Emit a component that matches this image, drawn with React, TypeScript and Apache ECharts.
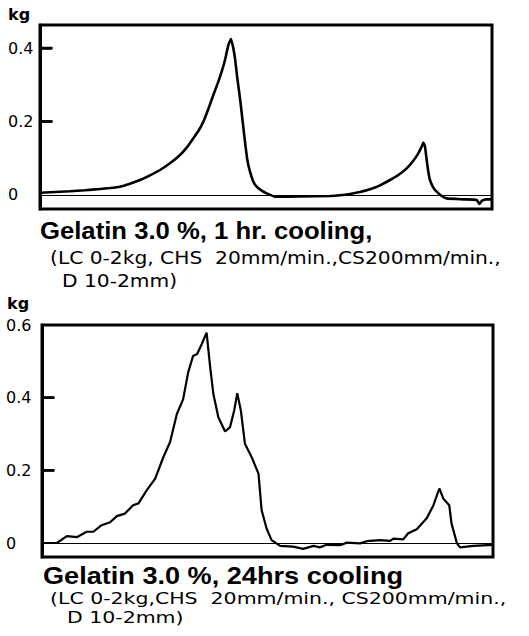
import React, { useEffect, useRef } from "react";
import * as echarts from "echarts";

// Panel 1: Gelatin 3.0%, 1 hr cooling (x: relative chart position 0-100, y: kg)
const xTop = [0, 6.6, 9.96, 13.27, 15.49, 17.7, 19.91, 22.12, 24.34, 26.55, 28.76, 30.97, 32.45, 33.92, 35.03, 36.14, 37.24, 38.35, 39.45, 40.19, 40.93, 41.67, 42.26, 42.77, 43.14, 43.66, 44.25, 44.84, 45.35, 45.87, 46.46, 47.2, 47.94, 49.04, 50.15, 51.99, 57.5, 64.16, 66.37, 68.58, 70.8, 73.01, 75.22, 77.43, 79.28, 81.12, 82.6, 83.7, 84.44, 84.81, 85.18, 85.55, 85.91, 86.28, 87.02, 87.76, 88.86, 89.97, 93.66, 96.61, 97.2, 97.79, 98.82, 100];
const yTop = [0.006, 0.01, 0.013, 0.0163, 0.019, 0.0227, 0.0308, 0.0408, 0.0535, 0.068, 0.0862, 0.1088, 0.1288, 0.1542, 0.1741, 0.1995, 0.234, 0.272, 0.3084, 0.3356, 0.3673, 0.408, 0.4245, 0.399, 0.372, 0.3175, 0.263, 0.1995, 0.145, 0.0952, 0.0635, 0.0363, 0.0227, 0.0118, 0.0045, -0.0045, -0.004, -0.0027, -0.0009, 0.0027, 0.0082, 0.0154, 0.0263, 0.0408, 0.0544, 0.0726, 0.0934, 0.1134, 0.1315, 0.1424, 0.1315, 0.0952, 0.0635, 0.0408, 0.02, 0.0091, -0.0027, -0.0091, -0.0118, -0.0136, -0.0245, -0.0154, -0.0118, -0.0118];

// Panel 2: Gelatin 3.0%, 24 hrs cooling
const xBot = [0, 3.3, 5.5, 7.7, 9.9, 11.4, 13.2, 15.1, 16.6, 18.4, 20.2, 21.4, 23.2, 25.1, 26.9, 28.4, 29.9, 31.3, 32.4, 33.5, 34.4, 35.4, 36.5, 37.3, 38.0, 39.1, 40.6, 41.7, 42.6, 43.3, 44.1, 45.0, 46.5, 48.0, 48.7, 49.8, 50.9, 52.8, 55.7, 57.9, 60.2, 61.6, 63.1, 66.1, 67.6, 70.5, 72.0, 75.0, 77.2, 77.9, 80.1, 81.2, 83.1, 85.3, 86.8, 88.1, 89.0, 90.3, 90.8, 92.0, 92.7, 95.6, 100];
const yBot = [0, 0, 0.019, 0.016, 0.031, 0.031, 0.049, 0.057, 0.074, 0.081, 0.104, 0.109, 0.145, 0.177, 0.236, 0.278, 0.355, 0.396, 0.469, 0.515, 0.52, 0.547, 0.579, 0.483, 0.41, 0.346, 0.307, 0.319, 0.364, 0.412, 0.364, 0.273, 0.236, 0.191, 0.09, 0.04, 0.008, -0.008, -0.01, -0.016, -0.008, -0.012, -0.005, -0.006, 0.001, -0.001, 0.005, 0.008, 0.006, 0.012, 0.01, 0.027, 0.038, 0.068, 0.104, 0.15, 0.122, 0.104, 0.054, -0.001, -0.012, -0.008, -0.005];

const labelsTop = [0, 0.2, 0.4];
const labelsBot = [0, 0.2, 0.4, 0.6];
const tickMarksTop = [0.2, 0.4];
const tickMarksBot = [0.2, 0.4];

const unit = "kg";
const title1 = "Gelatin 3.0 %, 1 hr. cooling,";
const sub1a = "(LC 0-2kg, CHS  20mm/min.,CS200mm/min.,";
const sub1b = "D 10-2mm)";
const title2 = "Gelatin 3.0 %, 24hrs cooling";
const sub2a = "(LC 0-2kg,CHS  20mm/min., CS200mm/min.,";
const sub2b = "D 10-2mm)";

const FONT = "DejaVu Sans";
const TFONT = "Liberation Sans";

export default function App() {
  const ref = useRef<HTMLDivElement>(null);
  useEffect(() => {
    if (!ref.current) return;
    const chart = echarts.init(ref.current, null, { renderer: "svg" });
    const pairs = (xs: number[], ys: number[]) => xs.map((x, i) => [x, ys[i]]);
    const yAxisBase = (min: number, max: number, labels: number[], ticks: number[], margin: number) => ({
      type: "value",
      min,
      max,
      splitLine: { show: false },
      axisLine: { show: true, onZero: false, lineStyle: { color: "#000", width: 3 } },
      axisTick: {
        show: true,
        inside: true,
        length: 12,
        customValues: ticks,
        lineStyle: { color: "#000", width: 2.5 },
      },
      axisLabel: {
        show: true,
        showMinLabel: true,
        showMaxLabel: true,
        customValues: labels,
        align: "left",
        margin,
        color: "#000",
        fontFamily: FONT,
        fontSize: 16,
        formatter: (v: number) => (v === 0 ? "0" : String(Math.round(v * 10) / 10)),
      },
    });
    const txt = (text: string, x: number, y: number, size: number, weight: string, family: string, sx = 1) => ({
      type: "text",
      x,
      y,
      scaleX: sx,
      style: {
        text,
        fill: "#000",
        font: `${weight} ${size}px "${family}"`,
        textAlign: "left",
        textVerticalAlign: "middle",
      },
    });
    const zeroLine = {
      silent: true,
      symbol: ["none", "none"],
      label: { show: false },
      lineStyle: { color: "#000", width: 1.2, type: "solid" },
      data: [{ yAxis: 0 }],
    };
    // short inward tick marks also drawn as tiny line series on each panel's scales
    const TICK_LEN = 2.8; // x-axis units (about 12.5 px)
    const tickSeries = (panel: number, ticks: number[]) =>
      ticks.map((t) => ({
        type: "line",
        xAxisIndex: panel,
        yAxisIndex: panel,
        data: [
          [0, t],
          [TICK_LEN, t],
        ],
        showSymbol: false,
        silent: true,
        z: 10,
        lineStyle: { color: "#000", width: 2.5 },
      }));
    chart.setOption({
      animation: false,
      backgroundColor: "#fff",
      grid: [
        { left: 40, top: 25, width: 452, height: 184, show: true, borderColor: "#000", borderWidth: 3 },
        { left: 42, top: 325, width: 451, height: 232, show: true, borderColor: "#000", borderWidth: 3 },
      ],
      xAxis: [
        { type: "value", gridIndex: 0, min: 0, max: 100, show: false },
        { type: "value", gridIndex: 1, min: 0, max: 100, show: false },
      ],
      yAxis: [
        { gridIndex: 0, ...yAxisBase(-0.0381, 0.4626, labelsTop, tickMarksTop, 32) },
        { gridIndex: 1, ...yAxisBase(-0.0385, 0.6, labelsBot, tickMarksBot, 36) },
      ],
      series: [
        {
          type: "line",
          xAxisIndex: 0,
          yAxisIndex: 0,
          data: pairs(xTop, yTop),
          showSymbol: false,
          smooth: 0.15,
          lineStyle: { color: "#000", width: 2.6 },
          markLine: zeroLine,
        },
        {
          type: "line",
          xAxisIndex: 1,
          yAxisIndex: 1,
          data: pairs(xBot, yBot),
          showSymbol: false,
          lineStyle: { color: "#000", width: 2.2 },
          markLine: zeroLine,
        },
        ...tickSeries(0, tickMarksTop),
        ...tickSeries(1, tickMarksBot),
      ],
      graphic: [
        txt(unit, 8, 14, 16, "bold", FONT),
        txt(title1, 40, 231, 24, "bold", TFONT, 1.07),
        txt(sub1a, 50, 258, 17, "normal", FONT, 1.19),
        txt(sub1b, 62, 281, 17, "normal", FONT, 1.19),
        txt(unit, 7, 303, 16, "bold", FONT),
        txt(title2, 43, 576, 24, "bold", TFONT, 1.13),
        txt(sub2a, 50, 598, 16, "normal", FONT, 1.28),
        txt(sub2b, 67, 617, 16, "normal", FONT, 1.28),
      ],
    });
    return () => chart.dispose();
  }, []);
  return (
    <div
      ref={ref}
      style={{ position: "absolute", left: 0, top: 0, width: 529, height: 636, background: "#fff" }}
    />
  );
}
